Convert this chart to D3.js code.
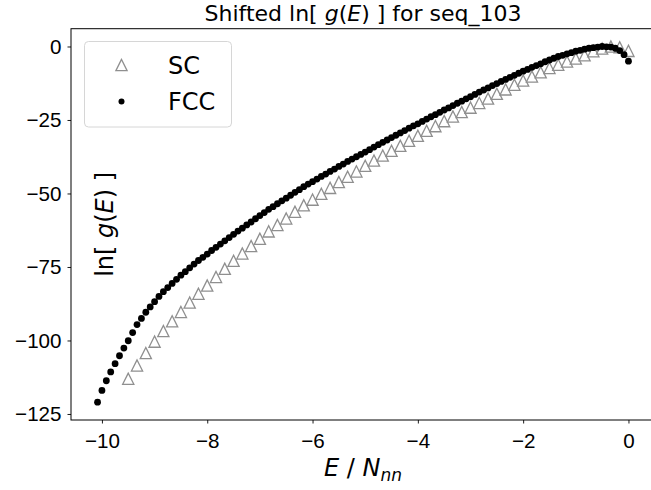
<!DOCTYPE html>
<html>
<head>
<meta charset="utf-8">
<script src="https://cdn.jsdelivr.net/npm/d3@7"></script>
<style>
  html, body { margin: 0; padding: 0; background: #ffffff; }
  svg { display: block; font-family: "DejaVu Sans", sans-serif; }
</style>
</head>
<body>
<div id="chart"></div>
<script>

// energies are integers, x axis shows E / N_nn
const nn_sc = 6
const nn_fcc = 12

const sc_energy = [
  -57, -56, -55, -54, -53, -52, -51, -50, -49, -48, -47, -46, -45, -44, -43, -42, -41, -40, -39, -38,
  -37, -36, -35, -34, -33, -32, -31, -30, -29, -28, -27, -26, -25, -24, -23, -22, -21, -20, -19, -18,
  -17, -16, -15, -14, -13, -12, -11, -10, -9, -8, -7, -6, -5, -4, -3, -2, -1, 0
]
const sc_lng = [
  -113.0, -108.5, -104.3, -100.4, -96.8, -93.5, -90.3, -87.1, -84.1, -81.3,
  -78.4, -75.6, -72.9, -70.4, -67.9, -65.4, -62.9, -60.7, -58.5, -56.2,
  -54.0, -52.1, -50.1, -48.1, -46.1, -44.3, -42.5, -40.6, -38.8, -37.1,
  -35.5, -33.8, -32.1, -30.4, -28.7, -27.1, -25.4, -23.8, -22.3, -20.8,
  -19.2, -17.7, -16.1, -14.6, -13.0, -11.6, -10.2, -8.8, -7.3, -6.2,
  -5.1, -4.1, -3.0, -1.6, -0.7, 0.0, -0.3, -1.5
]

const fcc_energy = [
  -121, -120, -119, -118, -117, -116, -115, -114, -113, -112, -111, -110, -109, -108, -107, -106,
  -105, -104, -103, -102, -101, -100, -99, -98, -97, -96, -95, -94, -93, -92, -91, -90,
  -89, -88, -87, -86, -85, -84, -83, -82, -81, -80, -79, -78, -77, -76, -75, -74,
  -73, -72, -71, -70, -69, -68, -67, -66, -65, -64, -63, -62, -61, -60, -59, -58,
  -57, -56, -55, -54, -53, -52, -51, -50, -49, -48, -47, -46, -45, -44, -43, -42,
  -41, -40, -39, -38, -37, -36, -35, -34, -33, -32, -31, -30, -29, -28, -27, -26,
  -25, -24, -23, -22, -21, -20, -19, -18, -17, -16, -15, -14, -13, -12, -11, -10,
  -9, -8, -7, -6, -5, -4, -3, -2, -1, 0
]
const fcc_lng = [
  -121.0, -117.0, -113.7, -110.7, -107.9, -105.2, -102.6, -100.1, -97.3, -94.6,
  -92.5, -90.4, -88.6, -86.8, -85.0, -83.4, -82.0, -80.6, -79.2, -77.8,
  -76.6, -75.3, -74.0, -72.8, -71.7, -70.6, -69.4, -68.3, -67.2, -66.1,
  -65.0, -63.9, -62.8, -61.8, -60.7, -59.7, -58.6, -57.5, -56.5, -55.4,
  -54.5, -53.5, -52.5, -51.6, -50.6, -49.6, -48.7, -47.7, -46.8, -46.0,
  -45.1, -44.2, -43.4, -42.5, -41.7, -40.8, -40.0, -39.1, -38.3, -37.5,
  -36.7, -35.9, -35.1, -34.2, -33.4, -32.6, -31.8, -31.0, -30.2, -29.4,
  -28.6, -27.8, -27.0, -26.3, -25.5, -24.7, -23.9, -23.2, -22.4, -21.6,
  -20.9, -20.1, -19.3, -18.6, -17.8, -17.1, -16.3, -15.5, -14.8, -14.1,
  -13.3, -12.6, -11.9, -11.2, -10.5, -9.8, -9.1, -8.4, -7.8, -7.1,
  -6.5, -5.9, -5.2, -4.6, -4.0, -3.4, -3.0, -2.5, -2.1, -1.6,
  -1.3, -0.9, -0.6, -0.4, -0.2, 0.0, -0.1, -0.2, -0.6, -1.4,
  -2.8, -5.0
]

const x_ticks = [-10, -8, -6, -4, -2, 0]
const y_ticks = [0, -25, -50, -75, -100, -125]
const series_names = ["SC", "FCC"]

const width = 651
const height = 490
const margin = {left: 71, right: -4, top: 28.7, bottom: 70}

var sc_points = sc_energy.map((e, i) => ({x: e / nn_sc, y: sc_lng[i]}))
var fcc_points = fcc_energy.map((e, i) => ({x: e / nn_fcc, y: fcc_lng[i]}))
var all_points = sc_points.concat(fcc_points)

// matplotlib-like 5% padding around the data
function padded(ext) {
    var pad = (ext[1] - ext[0]) * 0.05
    return [ext[0] - pad, ext[1] + pad]
}

var x = d3.scaleLinear()
    .domain(padded(d3.extent(all_points, d => d.x)))
    .range([margin.left, width - margin.right])

var y = d3.scaleLinear()
    .domain(padded(d3.extent(all_points, d => d.y)))
    .range([height - margin.bottom, margin.top])

var svg = d3.select("#chart").append("svg")
    .attr("width", width)
    .attr("height", height)
    .attr("viewBox", [0, 0, width, height])

var minus = s => String(s).replace("-", "\u2212")

// axes
var x_axis = svg.append("g")
    .attr("transform", `translate(0,${height - margin.bottom})`)
    .call(d3.axisBottom(x).tickValues(x_ticks).tickSize(3.5).tickPadding(5).tickFormat(minus))

var y_axis = svg.append("g")
    .attr("transform", `translate(${margin.left},0)`)
    .call(d3.axisLeft(y).tickValues(y_ticks).tickSize(3.5).tickPadding(6).tickFormat(minus))

for (const ax of [x_axis, y_axis]) {
    ax.select(".domain").remove()
    ax.selectAll("line").attr("stroke", "#000").attr("stroke-width", 0.9)
    ax.selectAll("text").style("font-size", "20.6px").attr("fill", "#000")
}
x_axis.selectAll("text").attr("dy", "0.95em")

// frame
svg.append("rect")
    .attr("x", margin.left)
    .attr("y", margin.top)
    .attr("width", width - margin.right - margin.left)
    .attr("height", height - margin.bottom - margin.top)
    .attr("fill", "none")
    .attr("stroke", "#000")
    .attr("stroke-width", 1)

var plot = svg.append("g")

var tri = "M0,-5.6L-5.6,5.6L5.6,5.6Z"

plot.selectAll("path.sc")
    .data(sc_points)
    .join("path")
    .attr("class", "sc")
    .attr("d", tri)
    .attr("transform", d => `translate(${x(d.x)},${y(d.y)})`)
    .attr("fill", "none")
    .attr("stroke", "#8f8f8f")
    .attr("stroke-width", 1.3)

plot.selectAll("circle.fcc")
    .data(fcc_points)
    .join("circle")
    .attr("class", "fcc")
    .attr("cx", d => x(d.x))
    .attr("cy", d => y(d.y))
    .attr("r", 3.4)
    .attr("fill", "#000")

// title
var title = svg.append("text")
    .attr("x", (margin.left + width - margin.right) / 2)
    .attr("y", 21)
    .attr("text-anchor", "middle")
    .style("font-size", "22px")
title.append("tspan").text("Shifted ln[ ")
title.append("tspan").style("font-style", "italic").text("g")
title.append("tspan").text("(")
title.append("tspan").style("font-style", "italic").text("E")
title.append("tspan").text(") ] for seq_103")

// x label
var xlab = svg.append("text")
    .attr("x", (margin.left + width - margin.right) / 2)
    .attr("y", 476)
    .attr("text-anchor", "middle")
    .style("font-size", "24px")
xlab.append("tspan").style("font-style", "italic").text("E")
xlab.append("tspan").text(" / ")
xlab.append("tspan").style("font-style", "italic").text("N")
xlab.append("tspan").style("font-style", "italic").style("font-size", "17px").attr("dy", 5).text("nn")

// y label, sits inside the frame in the original
var ylab = svg.append("text")
    .attr("transform", `translate(113,${(margin.top + height - margin.bottom) / 2}) rotate(-90)`)
    .attr("text-anchor", "middle")
    .style("font-size", "24px")
ylab.append("tspan").text("ln[ ")
ylab.append("tspan").style("font-style", "italic").text("g")
ylab.append("tspan").text("(")
ylab.append("tspan").style("font-style", "italic").text("E")
ylab.append("tspan").text(") ]")

// legend
var legend = svg.append("g")
legend.append("rect")
    .attr("x", 84.5)
    .attr("y", 41.5)
    .attr("width", 147)
    .attr("height", 85.5)
    .attr("rx", 4)
    .attr("fill", "#fff")
    .attr("fill-opacity", 0.8)
    .attr("stroke", "#d6d6d6")
    .attr("stroke-width", 1)

legend.append("path")
    .attr("d", tri)
    .attr("transform", "translate(121.5,65)")
    .attr("fill", "none")
    .attr("stroke", "#8f8f8f")
    .attr("stroke-width", 1.3)

legend.append("circle")
    .attr("cx", 121.5)
    .attr("cy", 101.5)
    .attr("r", 3)
    .attr("fill", "#000")

legend.selectAll("text.lab")
    .data(series_names)
    .join("text")
    .attr("class", "lab")
    .attr("x", 168)
    .attr("y", (d, i) => 73.5 + i * 36.5)
    .style("font-size", "24px")
    .text(d => d)

</script>
</body>
</html>
